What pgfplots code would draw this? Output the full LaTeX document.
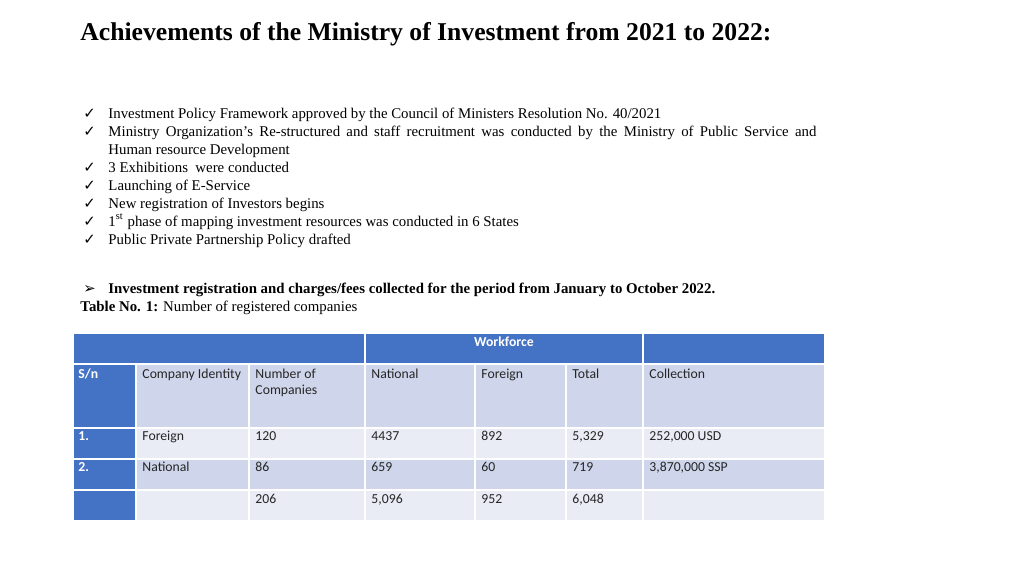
\documentclass[border=0pt]{standalone}
\usepackage{pgfplots}
\pgfplotsset{compat=1.18}
\usepackage{fontspec}
\setmainfont{Liberation Serif}
\newfontfamily\calib{Carlito}
\newfontfamily\sym{DejaVu Sans}
\definecolor{hdblue}{HTML}{4472C4}
\definecolor{rowdark}{HTML}{CFD5EA}
\definecolor{rowlight}{HTML}{E9EBF5}
\definecolor{celltxt}{HTML}{262626}
\newdimen\px \px=0.015625cm

% one table cell, coordinates in slide pixels
\newcommand\cell[5]{\filldraw[fill=#5, draw=white, line width=2\px] (axis cs:#1,#2) rectangle (axis cs:#3,#4);}
\newcommand\ctext[3]{\node[anchor=base west, inner sep=0pt, font=\calib\fontsize{6.1}{7}\selectfont, text=celltxt] at (axis cs:#1,#2) {#3};}
\newcommand\wtext[3]{\node[anchor=base west, inner sep=0pt, font=\calib\bfseries\fontsize{6.1}{7}\selectfont, text=white] at (axis cs:#1,#2) {#3};}
\newcommand\btext[3]{\node[anchor=base west, inner sep=0pt, font=\fontsize{6.6}{8}\selectfont] at (axis cs:#1,#2) {#3};}
\newcommand\tick[1]{\node[anchor=base west, inner sep=0pt, font=\sym\fontsize{6.6}{8}\selectfont] at (axis cs:83,#1) {✓};}

\begin{document}
\begin{tikzpicture}
\begin{axis}[hide axis, scale only axis, width=16cm, height=9cm,
  xmin=0, xmax=1024, ymin=0, ymax=576, y dir=reverse, clip=false]
\fill[white] (axis cs:0,0) rectangle (axis cs:1024,576);

% title
\node[anchor=base west, inner sep=0pt, font=\bfseries\fontsize{11.4}{13}\selectfont] at (axis cs:80,41) {Achievements of the Ministry of Investment from 2021 to 2022:};

% achievements list
\tick{118}\btext{108}{118}{Investment Policy Framework approved by the Council of Ministers Resolution No. 40/2021}
\tick{136}\btext{108}{136}{\makebox[708\px][s]{Ministry Organization’s Re-structured and staff recruitment was conducted by the Ministry of Public Service and}}
\btext{108}{154}{Human resource Development}
\tick{172}\btext{108}{172}{3 Exhibitions\ \ were conducted}
\tick{190}\btext{108}{190}{Launching of E-Service}
\tick{208}\btext{108}{208}{New registration of Investors begins}
\tick{226}\btext{108}{226}{1\textsuperscript{st} phase of mapping investment resources was conducted in 6 States}
\tick{244}\btext{108}{244}{Public Private Partnership Policy drafted}

\node[anchor=base west, inner sep=0pt, font=\sym\fontsize{6.6}{8}\selectfont] at (axis cs:83,293) {➢};
\btext{108}{293}{\bfseries Investment registration and charges/fees collected for the period from January to October 2022.}
\btext{80}{311}{\textbf{Table No. 1:} Number of registered companies}

% table cells: top header
\cell{73}{333}{365}{364}{hdblue}
\cell{365}{333}{643}{364}{hdblue}
\cell{643}{333}{825}{364}{hdblue}
% column header row
\cell{73}{364}{136}{428}{hdblue}
\cell{136}{364}{249}{428}{rowdark}
\cell{249}{364}{365}{428}{rowdark}
\cell{365}{364}{475}{428}{rowdark}
\cell{475}{364}{566}{428}{rowdark}
\cell{566}{364}{643}{428}{rowdark}
\cell{643}{364}{825}{428}{rowdark}
% row 1
\cell{73}{428}{136}{459}{hdblue}
\cell{136}{428}{249}{459}{rowlight}
\cell{249}{428}{365}{459}{rowlight}
\cell{365}{428}{475}{459}{rowlight}
\cell{475}{428}{566}{459}{rowlight}
\cell{566}{428}{643}{459}{rowlight}
\cell{643}{428}{825}{459}{rowlight}
% row 2
\cell{73}{459}{136}{490}{hdblue}
\cell{136}{459}{249}{490}{rowdark}
\cell{249}{459}{365}{490}{rowdark}
\cell{365}{459}{475}{490}{rowdark}
\cell{475}{459}{566}{490}{rowdark}
\cell{566}{459}{643}{490}{rowdark}
\cell{643}{459}{825}{490}{rowdark}
% total row
\cell{73}{490}{136}{521}{hdblue}
\cell{136}{490}{249}{521}{rowlight}
\cell{249}{490}{365}{521}{rowlight}
\cell{365}{490}{475}{521}{rowlight}
\cell{475}{490}{566}{521}{rowlight}
\cell{566}{490}{643}{521}{rowlight}
\cell{643}{490}{825}{521}{rowlight}

% table text
\node[anchor=base, inner sep=0pt, font=\calib\bfseries\fontsize{6.1}{7}\selectfont, text=white] at (axis cs:504,346) {Workforce};
\wtext{78}{378}{S/n}
\ctext{142}{378}{Company Identity}
\ctext{255}{378}{Number of}
\ctext{255}{394}{Companies}
\ctext{371}{378}{National}
\ctext{481}{378}{Foreign}
\ctext{572}{378}{Total}
\ctext{649}{378}{Collection}

\wtext{78}{440}{1.}
\ctext{142}{440}{Foreign}
\ctext{255}{440}{120}
\ctext{371}{440}{4437}
\ctext{481}{440}{892}
\ctext{572}{440}{5,329}
\ctext{649}{440}{252,000 USD}

\wtext{78}{471}{2.}
\ctext{142}{471}{National}
\ctext{255}{471}{86}
\ctext{371}{471}{659}
\ctext{481}{471}{60}
\ctext{572}{471}{719}
\ctext{649}{471}{3,870,000 SSP}

\ctext{255}{503}{206}
\ctext{371}{503}{5,096}
\ctext{481}{503}{952}
\ctext{572}{503}{6,048}
\end{axis}
\end{tikzpicture}
\end{document}
